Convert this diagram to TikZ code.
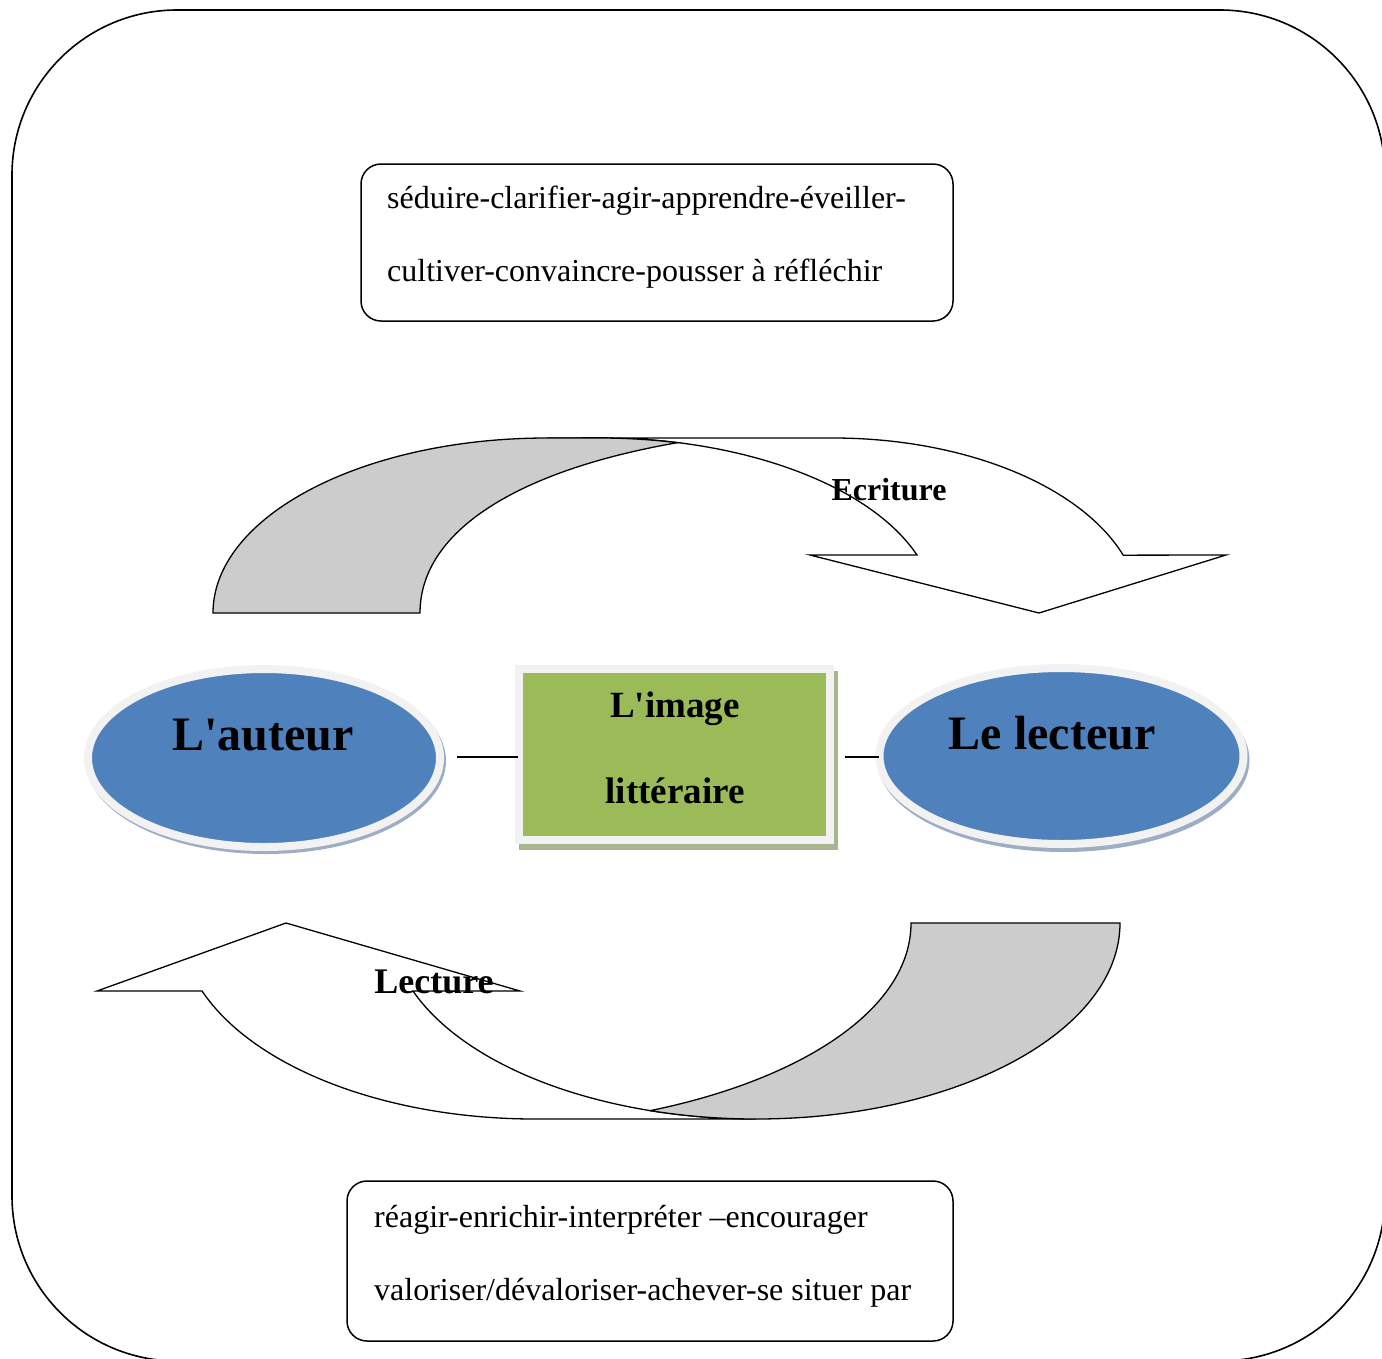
\documentclass[tikz,border=0pt]{standalone}
\usepackage{fontspec}
\setmainfont{Liberation Serif}
\usetikzlibrary{shapes.geometric}
\newcommand\straightq{\XeTeXglyph\XeTeXcharglyph"0027\relax}
\definecolor{ovalblue}{HTML}{4F81BD}
\definecolor{boxgreen}{HTML}{9BBB59}
\definecolor{ringgray}{HTML}{F2F2F2}
\definecolor{bandgray}{HTML}{CCCCCC}
\definecolor{ovalshadow}{HTML}{9DADC4}
\definecolor{boxshadow}{HTML}{A9B591}
\tikzset{
  outerframe/.style={draw=black, line width=1.6pt, rounded corners=165pt},
  textbox/.style={draw=black, line width=1.5pt, rounded corners=20pt, rectangle, inner sep=0pt},
  boxtext/.style={anchor=base west, inner sep=0pt, font=\fontsize{32}{38}\selectfont},
  band/.style={draw=black, line width=1.3pt, line join=miter},
  oval/.style={ellipse, fill=ovalblue, draw=ringgray, line width=8pt, inner sep=0pt},
  ovalshade/.style={ellipse, fill=ovalshadow, inner sep=0pt},
  ovaltext/.style={anchor=base, inner sep=0pt, font=\bfseries\fontsize{48}{56}\selectfont},
  greenbox/.style={rectangle, fill=boxgreen, draw=ringgray, line width=8pt, inner sep=0pt},
  greenshade/.style={rectangle, fill=boxshadow, inner sep=0pt},
  greentext/.style={anchor=base, inner sep=0pt, font=\bfseries\fontsize{37}{44}\selectfont},
  arrowtext/.style={anchor=base, inner sep=0pt, font=\bfseries\fontsize{32}{38}\selectfont},
  conn/.style={draw=black, line width=1.4pt}
}
\begin{document}
\begin{tikzpicture}[x=1pt, y=-1pt]
\useasboundingbox (0,0) rectangle (1382,1358);
\clip (0,0) rectangle (1382,1358);
% outer frame
\draw[outerframe] (12,10) rectangle (1385,1361);

% top text box
\node[textbox, minimum width=592pt, minimum height=157pt] (topbox) at (657,242.5) {};
\node[boxtext] (t1) at (387,208) {séduire-clarifier-agir-apprendre-éveiller-};
\node[boxtext] (t2) at (387,281) {cultiver-convaincre-pousser à réfléchir};

% bottom text box
\node[textbox, minimum width=606pt, minimum height=160pt] (botbox) at (650,1261) {};
\node[boxtext] (b1) at (374,1227) {réagir-enrichir-interpréter –encourager};
\node[boxtext] (b2) at (374,1300) {valoriser/dévaloriser-achever-se situer par};

% top curved arrow (Ecriture)
\path[band, fill=white] (547,438) -- (833,438)
  arc[start angle=270, end angle=340.7, x radius=307.5, y radius=175]
  -- (1226,555) -- (1039,613) -- (810,555) -- (917,555)
  arc[start angle=340.7, end angle=270, x radius=336, y radius=175]
  -- cycle;
\path[band, fill=bandgray] (213,613)
  arc[start angle=180, end angle=270, x radius=334, y radius=175]
  -- (600,438)
  arc[start angle=270, end angle=283.3, x radius=336, y radius=175]
  .. controls (520,470) and (420,530) .. (420,613) -- cycle;
\node[arrowtext] (ecr) at (889,500) {Ecriture};

% bottom curved arrow (Lecture)
\path[band, fill=white] (756,1119) -- (535,1119)
  arc[start angle=90, end angle=159.7, x radius=355, y radius=196]
  -- (97,991) -- (286,923) -- (520,991) -- (413,991)
  arc[start angle=159.7, end angle=90, x radius=366, y radius=196]
  -- cycle;
\path[band, fill=bandgray] (1120,923)
  arc[start angle=0, end angle=90, x radius=364, y radius=196]
  arc[start angle=90, end angle=106.8, x radius=366, y radius=196]
  .. controls (800,1080) and (911,1010) .. (911,923) -- cycle;
\node[arrowtext, font=\bfseries\fontsize{36}{42}\selectfont] (lec) at (434,993) {Lecture};

% ovals
\node[ovalshade, minimum width=360pt, minimum height=186pt] (auteurshade) at (266,761) {};
\node[oval, minimum width=352pt, minimum height=178pt] (auteur) at (264,758) {};
\node[ovaltext] (auteurtxt) at (263,750) {L\straightq auteur};

\node[ovalshade, minimum width=372pt, minimum height=184pt] (lecteurshade) at (1063.5,760) {};
\node[oval, minimum width=364pt, minimum height=176pt] (lecteur) at (1061.5,756) {};
\node[ovaltext] (lecteurtxt) at (1052,749) {Le lecteur};

% green box
\node[greenshade, minimum width=319pt, minimum height=179pt] (imageshade) at (678,760) {};
\node[greenbox, minimum width=311pt, minimum height=171pt] (image) at (674,754) {};
\node[greentext] (img1) at (675,717) {L\straightq image};
\node[greentext] (img2) at (675,803) {littéraire};

% connectors
\draw[conn, shorten <=13pt, shorten >=-3pt] (auteur.east |- 0,757) -- (image.west |- 0,757);
\draw[conn, shorten <=11.5pt, shorten >=-3.5pt] (image.east |- 0,757) -- (lecteur.west |- 0,757);
\end{tikzpicture}
\end{document}
